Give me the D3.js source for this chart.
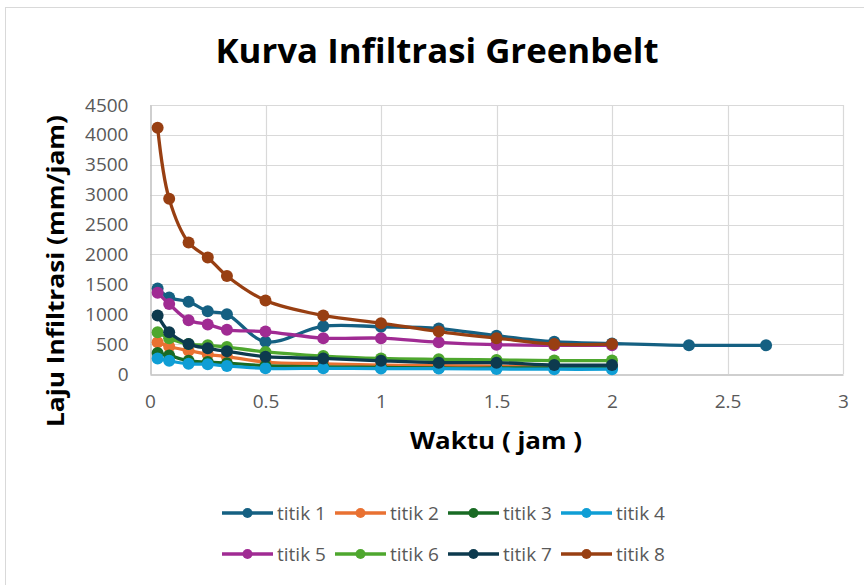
<!DOCTYPE html>
<html>
<head>
<meta charset="utf-8">
<script src="https://cdn.jsdelivr.net/npm/d3@7"></script>
<style>
  body { margin: 0; background: #fff; }
  svg { display: block; }
</style>
</head>
<body>
<div id="chart"></div>
<script>
const waktu = [0.033, 0.083, 0.167, 0.25, 0.333, 0.5, 0.75, 1, 1.25, 1.5, 1.75, 2];
const waktu1 = [0.033, 0.083, 0.167, 0.25, 0.333, 0.5, 0.75, 1, 1.25, 1.5, 1.75, 2, 2.333, 2.667];

const titik1 = [1430, 1280, 1210, 1050, 1000, 540, 800, 790, 760, 640, 540, 510, 480, 480];
const titik2 = [530, 460, 390, 330, 290, 200, 170, 150, 140, 130, 120, 120];
const titik3 = [350, 310, 220, 200, 180, 140, 120, 110, 100, 100, 100, 100];
const titik4 = [260, 220, 170, 165, 135, 95, 95, 90, 90, 85, 80, 80];
const titik5 = [1360, 1170, 900, 830, 740, 710, 600, 600, 530, 490, 480, 480];
const titik6 = [700, 600, 500, 480, 450, 370, 300, 260, 245, 235, 225, 225];
const titik7 = [980, 700, 500, 430, 380, 290, 260, 220, 190, 190, 150, 150];
const titik8 = [4120, 2930, 2200, 1950, 1640, 1230, 980, 850, 710, 600, 500, 500];

const seriesNames = ['titik 1', 'titik 2', 'titik 3', 'titik 4', 'titik 5', 'titik 6', 'titik 7', 'titik 8'];
const colors = ['#156082', '#e97132', '#196b24', '#0f9ed5', '#a02b93', '#4ea72e', '#0d3a4e', '#983f12'];
const xTicks = [0, 0.5, 1, 1.5, 2, 2.5, 3];
const yTicks = [0, 500, 1000, 1500, 2000, 2500, 3000, 3500, 4000, 4500];

const series = [
  { name: seriesNames[0], xs: waktu1, ys: titik1 },
  { name: seriesNames[1], xs: waktu, ys: titik2 },
  { name: seriesNames[2], xs: waktu, ys: titik3 },
  { name: seriesNames[3], xs: waktu, ys: titik4 },
  { name: seriesNames[4], xs: waktu, ys: titik5 },
  { name: seriesNames[5], xs: waktu, ys: titik6 },
  { name: seriesNames[6], xs: waktu, ys: titik7 },
  { name: seriesNames[7], xs: waktu, ys: titik8 }
];

const W = 864, H = 585;
const plot = { left: 150, right: 843, top: 105, bottom: 374 };
const font = '"Open Sans", "Liberation Sans", sans-serif';
const textGray = '#595959';

const svg = d3.select('#chart').append('svg')
  .attr('width', W)
  .attr('height', H);

// chart border
svg.append('rect')
  .attr('x', 5.5).attr('y', 7.5)
  .attr('width', W + 20).attr('height', H + 20)
  .attr('fill', '#fff')
  .attr('stroke', '#d9d9d9');

const x = d3.scaleLinear().domain([0, 3]).range([plot.left, plot.right]);
const y = d3.scaleLinear().domain([0, 4500]).range([plot.bottom, plot.top]);

// gridlines
svg.append('g')
  .selectAll('line')
  .data(yTicks.filter(d => d > 0))
  .enter().append('line')
  .attr('x1', plot.left).attr('x2', plot.right)
  .attr('y1', d => Math.round(y(d)) + 0.5).attr('y2', d => Math.round(y(d)) + 0.5)
  .attr('stroke', '#d9d9d9').attr('stroke-width', 1.2);

svg.append('g')
  .selectAll('line')
  .data(xTicks.filter(d => d > 0))
  .enter().append('line')
  .attr('x1', d => Math.round(x(d)) + 0.5).attr('x2', d => Math.round(x(d)) + 0.5)
  .attr('y1', plot.top).attr('y2', plot.bottom)
  .attr('stroke', '#d9d9d9').attr('stroke-width', 1.2);

// axes
const xAxis = svg.append('g')
  .attr('transform', `translate(0,${plot.bottom + 0.5})`)
  .call(d3.axisBottom(x).tickValues(xTicks).tickSize(0).tickPadding(20).tickFormat(d => d));
const yAxis = svg.append('g')
  .attr('transform', `translate(${plot.left + 0.5},0)`)
  .call(d3.axisLeft(y).tickValues(yTicks).tickSize(0).tickPadding(22).tickFormat(d => d));

[xAxis, yAxis].forEach(g => {
  g.select('.domain').attr('stroke', '#bfbfbf').attr('stroke-width', 1.5);
  g.selectAll('text')
    .attr('font-family', font)
    .attr('font-size', '19px')
    .attr('fill', textGray);
});

// series
const line = d3.line()
  .x(d => x(d[0]))
  .y(d => y(d[1]))
  .curve(d3.curveCatmullRom.alpha(0.5));

series.forEach((s, i) => {
  const pts = s.xs.map((v, j) => [v, s.ys[j]]);
  const g = svg.append('g');
  g.append('path')
    .datum(pts)
    .attr('d', line)
    .attr('fill', 'none')
    .attr('stroke', colors[i])
    .attr('stroke-width', 3.3)
    .attr('stroke-linejoin', 'round');
  g.selectAll('circle')
    .data(pts)
    .enter().append('circle')
    .attr('cx', d => x(d[0]))
    .attr('cy', d => y(d[1]))
    .attr('r', 6)
    .attr('fill', colors[i]);
});

// title
svg.append('text')
  .attr('x', 437).attr('y', 63)
  .attr('text-anchor', 'middle')
  .attr('font-family', font)
  .attr('font-weight', 'bold')
  .attr('font-size', '34px')
  .attr('textLength', 443)
  .attr('lengthAdjust', 'spacingAndGlyphs')
  .attr('fill', '#000')
  .text('Kurva Infiltrasi Greenbelt');

// axis titles
svg.append('text')
  .attr('x', 496).attr('y', 449)
  .attr('text-anchor', 'middle')
  .attr('font-family', font)
  .attr('font-weight', 'bold')
  .attr('font-size', '23px')
  .attr('textLength', 172)
  .attr('lengthAdjust', 'spacingAndGlyphs')
  .attr('fill', '#000')
  .text('Waktu ( jam )');

svg.append('text')
  .attr('transform', 'translate(64,271) rotate(-90)')
  .attr('text-anchor', 'middle')
  .attr('font-family', font)
  .attr('font-weight', 'bold')
  .attr('font-size', '23px')
  .attr('textLength', 312)
  .attr('lengthAdjust', 'spacingAndGlyphs')
  .attr('fill', '#000')
  .text('Laju Infiltrasi (mm/jam)');

// legend
const legend = svg.append('g');
series.forEach((s, i) => {
  const col = i % 4, row = Math.floor(i / 4);
  const lx = 222 + col * 113;
  const ly = 513 + row * 41;
  const item = legend.append('g').attr('transform', `translate(${lx},${ly})`);
  item.append('line')
    .attr('x1', 0).attr('x2', 51)
    .attr('y1', 0).attr('y2', 0)
    .attr('stroke', colors[i])
    .attr('stroke-width', 3.5);
  item.append('circle')
    .attr('cx', 25.5).attr('cy', 0).attr('r', 5)
    .attr('fill', colors[i]);
  item.append('text')
    .attr('x', 55).attr('y', 0)
    .attr('dy', '0.35em')
    .attr('font-family', font)
    .attr('font-size', '19px')
    .attr('fill', textGray)
    .text(s.name);
});
</script>
</body>
</html>
